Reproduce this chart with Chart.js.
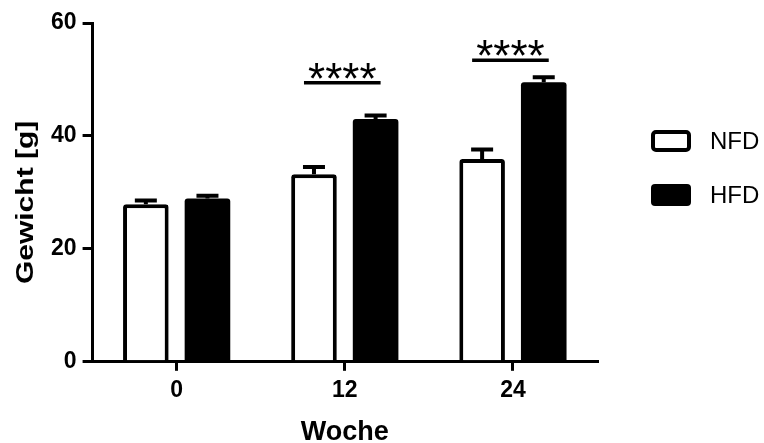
<!DOCTYPE html>
<html>
<head>
<meta charset="utf-8">
<script src="https://cdn.jsdelivr.net/npm/chart.js@4/dist/chart.umd.min.js"></script>
<style>
  html, body { margin: 0; padding: 0; background: #ffffff; }
  #wrap { width: 764px; height: 443px; }
</style>
</head>
<body>
<div id="wrap"><canvas id="c" width="764" height="443"></canvas></div>
<script>
// Body weight (mean, upper SEM) per week for normal and high-fat diet
const weeks = ['0', '12', '24'];
const nfdMean = [27.9, 33.2, 35.9];
const nfdSem = [0.65, 1.3, 1.7];
const hfdMean = [28.9, 43.0, 49.5];
const hfdSem = [0.5, 0.6, 0.9];
const seriesNames = ['NFD', 'HFD'];
// Significance brackets (height in g) and their labels
const sigLevel = [null, 49.4, 53.4];
const sigLabel = ['', '****', '****'];
const yTitle = 'Gewicht [g]';
const xTitle = 'Woche';
const yMin = 0, yMax = 60, yStep = 20;

const FONT = '"Liberation Sans", Arial, Helvetica, sans-serif';
const semByDataset = [nfdSem, hfdSem];

// Upper error bars with caps
const errorBars = {
  id: 'errorBars',
  afterDatasetsDraw(chart) {
    const ctx = chart.ctx;
    const y = chart.scales.y;
    ctx.save();
    ctx.strokeStyle = '#000';
    ctx.lineWidth = 4;
    ctx.lineCap = 'butt';
    chart.data.datasets.forEach((ds, di) => {
      const meta = chart.getDatasetMeta(di);
      meta.data.forEach((bar, i) => {
        const top = y.getPixelForValue(ds.data[i]);
        const tip = y.getPixelForValue(ds.data[i] + semByDataset[di][i]);
        ctx.beginPath();
        ctx.moveTo(bar.x, top);
        ctx.lineTo(bar.x, tip);
        ctx.moveTo(bar.x - 11, tip);
        ctx.lineTo(bar.x + 11, tip);
        ctx.stroke();
      });
    });
    ctx.restore();
  }
};

// Significance lines with asterisks between the two bars of a week
const significance = {
  id: 'significance',
  afterDatasetsDraw(chart) {
    const ctx = chart.ctx;
    const y = chart.scales.y;
    const m0 = chart.getDatasetMeta(0), m1 = chart.getDatasetMeta(1);
    ctx.save();
    ctx.strokeStyle = '#000';
    ctx.fillStyle = '#000';
    ctx.lineWidth = 3.5;
    sigLevel.forEach((lvl, i) => {
      if (lvl === null) return;
      const x1 = m0.data[i].x - 10;
      const x2 = m1.data[i].x + 5;
      const ly = y.getPixelForValue(lvl);
      ctx.beginPath();
      ctx.moveTo(x1, ly);
      ctx.lineTo(x2, ly);
      ctx.stroke();
      ctx.font = '44px ' + FONT;
      ctx.textAlign = 'center';
      ctx.textBaseline = 'alphabetic';
      ctx.fillText(sigLabel[i], (x1 + x2) / 2, ly + 11);
    });
    ctx.restore();
  }
};

// Rotated y-axis title
const yAxisTitle = {
  id: 'yAxisTitle',
  afterDraw(chart) {
    const { ctx, chartArea } = chart;
    ctx.save();
    ctx.translate(33, (chartArea.top + chartArea.bottom) / 2 + 10);
    ctx.rotate(-Math.PI / 2);
    ctx.scale(1.25, 1);
    ctx.font = 'bold 24px ' + FONT;
    ctx.fillStyle = '#000';
    ctx.textAlign = 'center';
    ctx.textBaseline = 'alphabetic';
    ctx.fillText(yTitle, 0, 0);
    ctx.restore();
  }
};

// Legend on the right: outlined / filled rounded boxes with labels
const sideLegend = {
  id: 'sideLegend',
  afterDraw(chart) {
    const { ctx, chartArea } = chart;
    const bx = chartArea.right + 54;
    ctx.save();
    chart.data.datasets.forEach((ds, i) => {
      const cy = 141 + i * 54;
      ctx.beginPath();
      if (ds.backgroundColor === '#ffffff') {
        ctx.lineWidth = 4;
        ctx.strokeStyle = '#000';
        ctx.fillStyle = '#fff';
        ctx.roundRect(bx + 2, cy - 9, 36, 18, 3);
        ctx.fill();
        ctx.stroke();
      } else {
        ctx.fillStyle = '#000';
        ctx.roundRect(bx, cy - 11, 40, 22, 4);
        ctx.fill();
      }
      ctx.fillStyle = '#000';
      ctx.font = '24px ' + FONT;
      ctx.textAlign = 'left';
      ctx.textBaseline = 'middle';
      ctx.fillText(ds.label, bx + 59, cy + 1);
    });
    ctx.restore();
  }
};

new Chart(document.getElementById('c'), {
  type: 'bar',
  data: {
    labels: weeks,
    datasets: [
      {
        label: seriesNames[0],
        data: nfdMean,
        backgroundColor: '#ffffff',
        borderColor: '#000000',
        borderWidth: 4,
        borderRadius: 3,
        borderSkipped: 'bottom'
      },
      {
        label: seriesNames[1],
        data: hfdMean,
        backgroundColor: '#000000',
        borderColor: '#000000',
        borderWidth: 0,
        borderRadius: 3,
        borderSkipped: 'bottom'
      }
    ]
  },
  options: {
    responsive: false,
    animation: false,
    devicePixelRatio: 1,
    barPercentage: 0.74,
    categoryPercentage: 0.733,
    layout: { padding: { left: 45, right: 167, top: 23, bottom: 0 } },
    plugins: {
      legend: { display: false },
      tooltip: { enabled: false }
    },
    scales: {
      x: {
        offset: true,
        grid: {
          offset: false,
          drawOnChartArea: false,
          drawTicks: true,
          tickLength: 9,
          lineWidth: 3,
          color: '#000'
        },
        border: { display: true, color: '#000', width: 3 },
        ticks: {
          color: '#000',
          padding: 6,
          font: { family: FONT, size: 23, weight: 'bold' }
        },
        title: {
          display: true,
          text: xTitle,
          color: '#000',
          padding: { top: 11, bottom: 0 },
          font: { family: FONT, size: 27, weight: 'bold', lineHeight: 0.8 }
        }
      },
      y: {
        min: yMin,
        max: yMax,
        grid: {
          drawOnChartArea: false,
          drawTicks: true,
          tickLength: 10,
          lineWidth: 3,
          color: '#000'
        },
        border: { display: true, color: '#000', width: 3 },
        ticks: {
          stepSize: yStep,
          color: '#000',
          padding: 6,
          font: { family: FONT, size: 23, weight: 'bold' }
        }
      }
    }
  },
  plugins: [errorBars, significance, yAxisTitle, sideLegend]
});
</script>
</body>
</html>
